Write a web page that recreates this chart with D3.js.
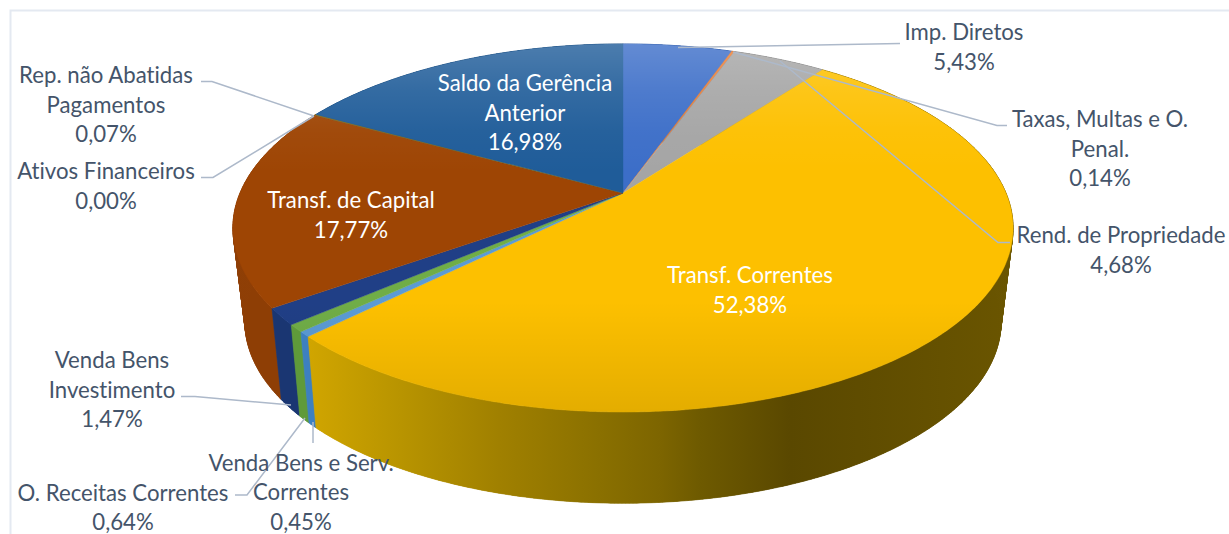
<!DOCTYPE html>
<html><head><meta charset="utf-8">
<script src="https://cdnjs.cloudflare.com/ajax/libs/d3/7.8.5/d3.min.js"></script>
<style>html,body{margin:0;padding:0;background:#fff;overflow:hidden}text{font-family:Lato,"Open Sans",sans-serif;font-variant-ligatures:none}</style>
</head><body><svg id="c" width="1229" height="534"></svg>
<script>
// Data
const categories = ["Imp. Diretos","Taxas, Multas e O. Penal.","Rend. de Propriedade","Transf. Correntes","Venda Bens e Serv. Correntes","O. Receitas Correntes","Venda Bens Investimento","Transf. de Capital","Ativos Financeiros","Rep. não Abatidas Pagamentos","Saldo da Gerência Anterior"];
const values = [5.43,0.14,4.68,52.38,0.45,0.64,1.47,17.77,0.00,0.07,16.98];
const labelLines = [["Imp. Diretos"],["Taxas, Multas e O.","Penal."],["Rend. de Propriedade"],["Transf. Correntes"],["Venda Bens e Serv.","Correntes"],["O. Receitas Correntes"],["Venda Bens","Investimento"],["Transf. de Capital"],["Ativos Financeiros"],["Rep. não Abatidas","Pagamentos"],["Saldo da Gerência","Anterior"]];
const palette = ["#3c6ec8","#ed7d31","#a5a5a5","#fdc000","#5b9bd5","#70ad47","#203f86","#9e4504","#636363","#997300","#1f5c99"];
const wallColours = ["#2f5597","#b05c20","#787878","#d6a900","#3d80c0","#5f9a3a","#1a3672","#8e3e05","#555555","#7a5c00","#1c4a75"];
const yellowWallStops = [[0,"#d0a500"],[0.129,"#b89400"],[0.271,"#a08000"],[0.414,"#8a7000"],[0.5,"#7d6500"],[0.557,"#6e5a00"],[0.686,"#5a4800"],[1,"#6a5500"]];
// Label layout: centre x, first line centre y
const labelX = [964,1100,1121,750,301,123,112,351,106,106,525];
const labelY = [33,120,236,276,463.5,493.5,361,201,172,76,84];
const labelInside = [0,0,0,1,0,0,0,1,0,0,1];
const leaders = [
 [[900,43.5],[678,47.5]],
 [[1007,125.5],[997,125.5],[733,52]],
 [[1010,242.5],[998,242.5],[780,61]],
 [[313,443],[313,422]],
 [[235,495],[247,495],[305,418]],
 [[181,396.5],[195,396.5],[291,405]],
 [[201,177.5],[213,177.5],[314,116]],
 [[201,81.5],[212,81.5],[314,116]]
];
const fmt = v => v.toFixed(2).replace(".",",")+"%";

const svg = d3.select("#c");
svg.append("path").attr("d","M1229,10.5H10.5V534").attr("fill","none").attr("stroke","#e4e9f1").attr("stroke-width",2);

// Perspective projection: angle t clockwise from top, on the top rim (z=0) or bottom rim (z=1)
const cx=623;
const rims=[{cy:193,R:383,A:177.4,K:0.19},{cy:286,R:370.4,A:173.8,K:0.2}];
function proj(t,z){
  const r=rims[z], u=Math.sin(t), v=-Math.cos(t), w=1-r.K*v;
  return [cx+r.R*u/w, r.cy+r.A*v/w];
}
const pie = d3.pie().sort(null).startAngle(0).endAngle(2*Math.PI)(values);
const line = d3.line();
const defs = svg.append("defs");
function arcPts(s,z){
  const n=Math.max(2,Math.ceil((s.endAngle-s.startAngle)/0.008));
  return d3.range(n+1).map(i=>proj(s.startAngle+(s.endAngle-s.startAngle)*i/n,z));
}
pie.forEach((s,i)=>{
  const g=defs.append("linearGradient").attr("id","w"+i).attr("gradientUnits","userSpaceOnUse")
    .attr("x1",310).attr("x2",1010).attr("y1",0).attr("y2",0);
  (i===3?yellowWallStops:[[0,wallColours[i]],[1,wallColours[i]]]).forEach(d=>
    g.append("stop").attr("offset",d[0]).attr("stop-color",d[1]));
});
// Wall base: one polygon per slice, back to front
const order = d3.range(values.length).filter(i=>values[i]>0)
  .sort((a,b)=>-Math.cos((pie[a].startAngle+pie[a].endAngle)/2)+Math.cos((pie[b].startAngle+pie[b].endAngle)/2));
svg.append("g").selectAll("path").data(order).join("path")
  .attr("d",i=>line(arcPts(pie[i],0).concat(arcPts(pie[i],1).reverse()))+"Z")
  .attr("fill",i=>`url(#w${i})`);
// Thin quads sweep the silhouette that joins the two rims
const quads = pie.flatMap((s,i)=>{
  if(values[i]<=0) return [];
  const a=arcPts(s,0), b=arcPts(s,1);
  return d3.range(a.length-1).map(j=>({i, y:a[j][1], pts:[a[j],a[j+1],b[j+1],b[j]]}));
}).sort((p,q)=>p.y-q.y);
svg.append("g").selectAll("path").data(quads).join("path")
  .attr("d",q=>line(q.pts)+"Z")
  .attr("fill",q=>`url(#w${q.i})`).attr("stroke",q=>`url(#w${q.i})`).attr("stroke-width",0.6);
// Top faces
const topFaces = svg.append("g");
topFaces.selectAll("path").data(pie).join("path")
  .attr("d",s=>line([[cx,rims[0].cy]].concat(arcPts(s,0)))+"Z")
  .attr("fill",(s,i)=>palette[i]).attr("stroke",(s,i)=>palette[i]).attr("stroke-width",0.4);
// Lighting overlay
const ov=defs.append("linearGradient").attr("id","ov").attr("gradientUnits","userSpaceOnUse").attr("x1",0).attr("x2",0).attr("y1",44).attr("y2",412);
[[0,"#fff",0.2],[0.13,"#fff",0.09],[0.24,"#fff",0.03],[0.35,"#fff",0],[0.7,"#000",0],[1,"#000",0.1]].forEach(d=>ov.append("stop").attr("offset",d[0]).attr("stop-color",d[1]).attr("stop-opacity",d[2]));
svg.append("path").attr("d",line(arcPts({startAngle:0,endAngle:2*Math.PI},0))+"Z").attr("fill","url(#ov)");
// Leaders
svg.append("g").selectAll("path").data(leaders).join("path").attr("d",d=>line(d))
  .attr("fill","none").attr("stroke","#adb9ca").attr("stroke-width",1.5);
// Labels
const fs=22.2, lh=29.5;
categories.forEach((c,i)=>{
  const lines=labelLines[i].concat([fmt(values[i])]);
  svg.append("text").attr("font-size",fs).attr("text-anchor","middle")
    .attr("fill",labelInside[i]?"#fff":"#44546a")
    .selectAll("tspan").data(lines).join("tspan")
    .attr("x",labelX[i]).attr("y",(d,j)=>labelY[i]+j*lh+7).text(d=>d);
});
</script></body></html>
